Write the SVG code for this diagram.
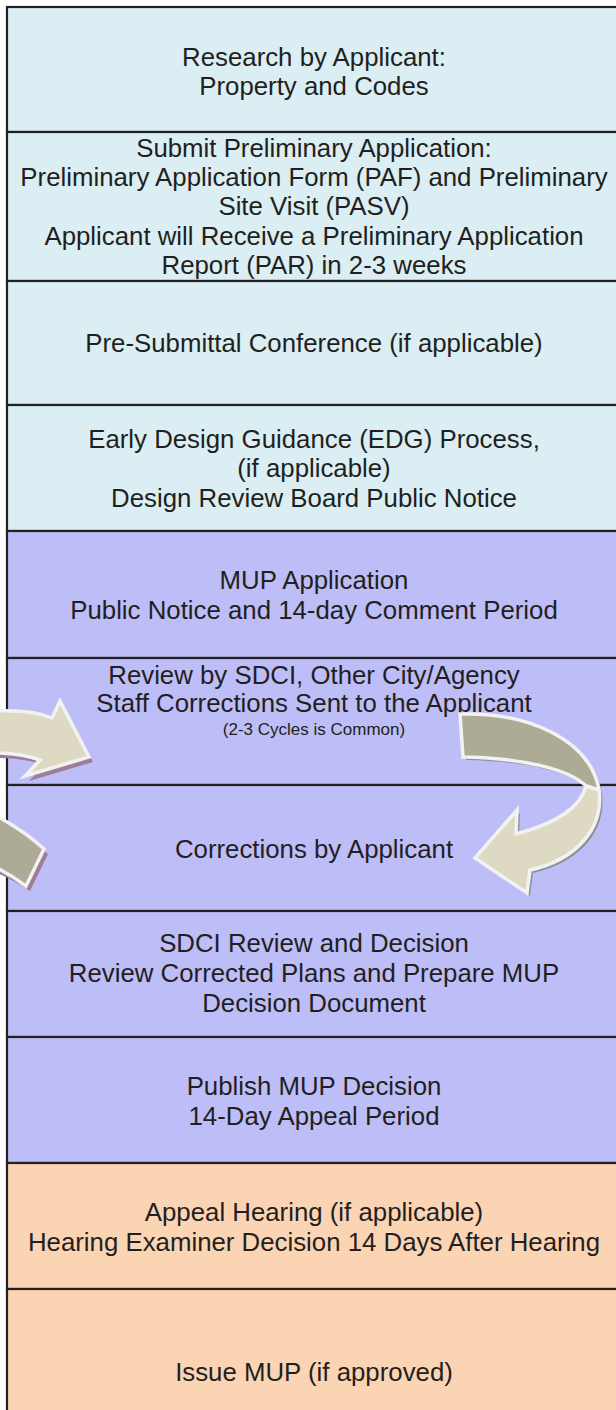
<svg xmlns="http://www.w3.org/2000/svg" width="616" height="1410" viewBox="0 0 616 1410">
<style>
.box{stroke:#231F20;stroke-width:2.2}
.b{fill:#DAEEF3}.p{fill:#BDBDF7}.o{fill:#FBD4B4}
text{font-family:"Liberation Sans",Arial,sans-serif;font-size:25.8px;fill:#231F20;text-anchor:middle}
.sm{font-size:17px}
.arr{stroke:#F2F2F2;stroke-width:3.5;stroke-linejoin:miter}
</style>
<rect width="616" height="1410" fill="#FFFFFF"/>
<g id="n1"><rect class="box b" x="7" y="7" width="620" height="125"/><text x="314" y="66">Research by Applicant:</text><text x="314" y="95">Property and Codes</text></g>
<g id="n2"><rect class="box b" x="7" y="132" width="620" height="149"/><text x="314" y="157">Submit Preliminary Application:</text><text x="314" y="186">Preliminary Application Form (PAF) and Preliminary</text><text x="314" y="215">Site Visit (PASV)</text><text x="314" y="245">Applicant will Receive a Preliminary Application</text><text x="314" y="274">Report (PAR) in 2-3 weeks</text></g>
<g id="n3"><rect class="box b" x="7" y="281" width="620" height="124"/><text x="314" y="352">Pre-Submittal Conference (if applicable)</text></g>
<g id="n4"><rect class="box b" x="7" y="405" width="620" height="126"/><text x="314" y="448">Early Design Guidance (EDG) Process,</text><text x="314" y="477">(if applicable)</text><text x="314" y="507">Design Review Board Public Notice</text></g>
<g id="n5"><rect class="box p" x="7" y="531" width="620" height="127"/><text x="314" y="589">MUP Application</text><text x="314" y="619">Public Notice and 14-day Comment Period</text></g>
<g id="n6"><rect class="box p" x="7" y="658" width="620" height="127"/><text x="314" y="684">Review by SDCI, Other City/Agency</text><text x="314" y="712">Staff Corrections Sent to the Applicant</text><text class="sm" x="314" y="735">(2-3 Cycles is Common)</text></g>
<g id="n7"><rect class="box p" x="7" y="785" width="620" height="126"/><text x="314" y="858">Corrections by Applicant</text></g>
<g id="n8"><rect class="box p" x="7" y="911" width="620" height="126"/><text x="314" y="952">SDCI Review and Decision</text><text x="314" y="982">Review Corrected Plans and Prepare MUP</text><text x="314" y="1012">Decision Document</text></g>
<g id="n9"><rect class="box p" x="7" y="1037" width="620" height="126"/><text x="314" y="1095">Publish MUP Decision</text><text x="314" y="1125">14-Day Appeal Period</text></g>
<g id="n10"><rect class="box o" x="7" y="1163" width="620" height="126"/><text x="314" y="1221">Appeal Hearing (if applicable)</text><text x="314" y="1251">Hearing Examiner Decision 14 Days After Hearing</text></g>
<g id="n11"><rect class="box o" x="7" y="1289" width="620" height="140"/><text x="314" y="1381">Issue MUP (if approved)</text></g>
<g id="connectors">
  <g id="arrow-left-tail">
    <path d="M-5,819 C15,830 30,840 48,854 L30,891 C18,883 6,877 -5,872 Z" fill="#9E7E97"/>
    <path class="arr" d="M-5,815 C15,826 30,836 44,849 L26,886 C15,878 5,872 -5,867 Z" fill="#ADAB96"/>
  </g>
  <g id="arrow-left-head">
    <path d="M-5,716 C20,715 40,718 56,723 L64,706 L93,762 L29,781 L44,765 C29,760 14,758 -5,758 Z" fill="#9E7E97"/>
    <path class="arr" d="M-5,711 C20,710 40,713 52,718 L60,701 L89,757 L25,776 L40,760 C25,755 10,753 -5,753 Z" fill="#DDD9C3"/>
  </g>
  <g id="arrow-right">
    <g transform="translate(3,3)" fill="#8B9494">
      <path d="M460,714 C525,712 590,738 599,790 L586,786 C570,770 525,758 463,757 Z"/>
      <path d="M599,790 C604,830 575,860 530,870 L527,893 L475,858 L517,810 L516,834 C550,825 580,810 586,786 Z"/>
    </g>
    <path class="arr" d="M460,714 C525,712 590,738 599,790 L586,786 C570,770 525,758 463,757 Z" fill="#ADAB96"/>
    <path class="arr" d="M599,790 C604,830 575,860 530,870 L527,893 L475,858 L517,810 L516,834 C550,825 580,810 586,786 Z" fill="#DDD9C3"/>
  </g>
</g>
</svg>
